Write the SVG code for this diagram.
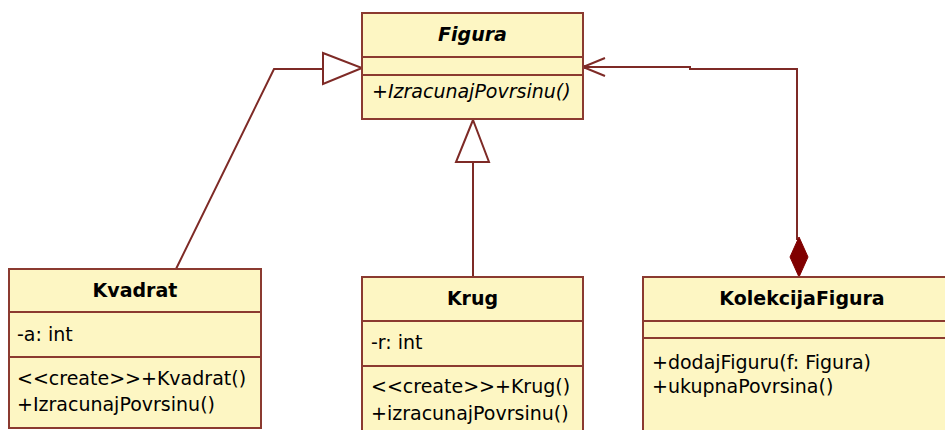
<svg xmlns="http://www.w3.org/2000/svg" width="945" height="430" viewBox="0 0 945 430">
<style>
.box{fill:#fdf6c3;stroke:#8b3a30;stroke-width:2}
.div{stroke:#8b3a30;stroke-width:2;fill:none}
.t{font-family:"DejaVu Sans",Verdana,sans-serif;font-size:19px;fill:#000}
.b{font-weight:bold;text-anchor:middle}
.i{font-style:italic}
.c{stroke:#7e2a26;stroke-width:2;fill:none}
.tri{stroke:#7e2a26;stroke-width:2;fill:#fff}
</style>
<rect width="945" height="430" fill="#fff"/>
<g id="connectors">
<path class="c" d="M176,269 L274,69 H323"/>
<polygon class="tri" points="323,53 362,68 323,84"/>
<path class="c" d="M473,162 V277"/>
<polygon class="tri" points="473,120 456,162 489,162"/>
<path class="c" d="M583,67 H690 V69 H797 V240"/>
<path class="c" d="M605,58 L583,67 L605,76"/>
<circle cx="584" cy="67" r="2" fill="#7e2a26"/>
<polygon points="799,237 808,257 799,277 790,257" fill="#800000" stroke="#800000" stroke-width="1"/>
</g>
<g id="Figura">
<rect class="box" x="362" y="13" width="221" height="106"/>
<path class="div" d="M362,57 H583 M362,75 H583"/>
<text class="t b i" x="472.5" y="41">Figura</text>
<text class="t i" x="372" y="98">+IzracunajPovrsinu()</text>
</g>
<g id="Kvadrat">
<rect class="box" x="9" y="269" width="252" height="159"/>
<path class="div" d="M9,312 H261 M9,357 H261"/>
<text class="t b" x="135" y="297">Kvadrat</text>
<text class="t" x="17" y="341">-a: int</text>
<text class="t" x="17" y="385">&lt;&lt;create&gt;&gt;+Kvadrat()</text>
<text class="t" x="17" y="411">+IzracunajPovrsinu()</text>
</g>
<g id="Krug">
<rect class="box" x="362" y="277" width="221" height="160"/>
<path class="div" d="M362,321 H583 M362,366 H583"/>
<text class="t b" x="472.5" y="305">Krug</text>
<text class="t" x="371" y="349">-r: int</text>
<text class="t" x="371" y="393">&lt;&lt;create&gt;&gt;+Krug()</text>
<text class="t" x="371" y="420">+izracunajPovrsinu()</text>
</g>
<g id="KolekcijaFigura">
<rect class="box" x="643" y="277" width="320" height="160"/>
<path class="div" d="M643,321 H963 M643,338 H963"/>
<text class="t b" x="802" y="305">KolekcijaFigura</text>
<text class="t" x="652" y="369">+dodajFiguru(f: Figura)</text>
<text class="t" x="652" y="393">+ukupnaPovrsina()</text>
</g>
</svg>
